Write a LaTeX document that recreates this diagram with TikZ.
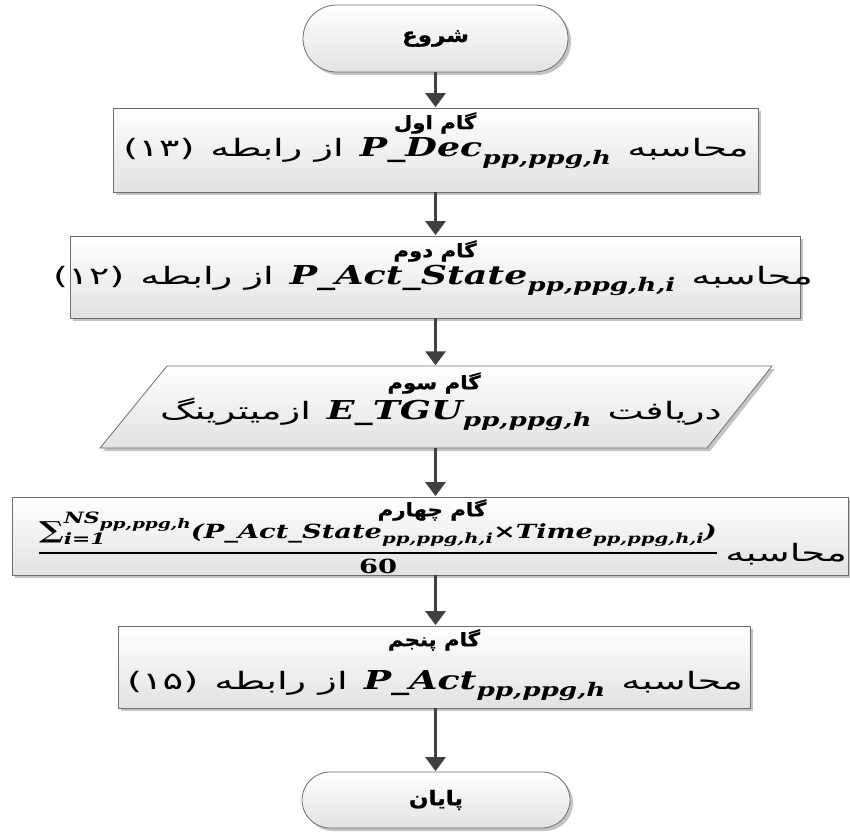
\documentclass[tikz,border=0pt]{standalone}
\usepackage{fontspec}
\usepackage{graphicx}
\usetikzlibrary{shapes.misc,shadows,arrows.meta}
\TeXXeTstate=1
% Persian text faces
\newfontfamily\fa[Script=Arabic,FakeStretch=1.6]{DejaVu Sans}
\newfontfamily\fatitle[Script=Arabic,FakeStretch=1.15,BoldFeatures={FakeBold=1}]{DejaVu Sans}
% Latin symbols of the formulas
\newfontfamily\lat[FakeStretch=1.4]{DejaVu Serif}
\definecolor{edgegray}{HTML}{6E6E6E}
\definecolor{arrowgray}{HTML}{404040}
\definecolor{shadegray}{HTML}{E2E2E2}
\definecolor{shadowgray}{HTML}{C4C4C4}
% subscript and variable helpers
\newcommand\lsub[1]{\raisebox{-0.3em}{\scalebox{0.72}{#1}}}
\newcommand\pvar[2]{{\lat\bfseries\itshape #1\lsub{#2}}}
\newcommand\gap{\hspace{16pt}}
\begin{document}
\begin{tikzpicture}[x=1pt,y=-1pt,
  box/.style={draw=edgegray, line width=0.8pt, top color=white, bottom color=shadegray,
    drop shadow={shadow xshift=3pt, shadow yshift=-3pt, fill=shadowgray, opacity=1},
    inner sep=0pt},
  stepbox/.style={box, rectangle},
  term/.style={box, rounded rectangle, font=\fatitle\bfseries\fontsize{20}{22}\selectfont},
  ghost/.style={rectangle, draw=none, inner sep=0pt},
  title/.style={inner sep=0pt, font=\fatitle\bfseries\fontsize{18.5}{20}\selectfont},
  mainline/.style={inner sep=0pt, anchor=base, font=\fontsize{24}{28}\selectfont},
  formula/.style={inner sep=0pt, anchor=base, font=\fontsize{19.5}{23}\selectfont\lat\bfseries},
  flow/.style={draw=arrowgray, line width=3pt, -{Triangle[length=14pt,width=20pt]}, shorten >=0.5pt}
]
\useasboundingbox (0,0) rectangle (850,837);

% start / end
\node[term, minimum width=265pt, minimum height=67pt] (start) at (435.5,38.5) {\beginR شروع\endR};
\node[term, minimum width=268pt, minimum height=56pt] (stop) at (436,800) {\beginR پایان\endR};

% step 1
\node[stepbox, minimum width=645pt, minimum height=84pt] (s1) at (435.5,150) {};
\node[title] (t1) at (435,123) {\beginR گام اول\endR};
\node[mainline] (l1) at (436,157) {{\fa (۱۳)}\gap{\fa\beginR از رابطه\endR}\gap{\fontsize{26}{28}\selectfont\pvar{P\_Dec}{pp,ppg,h}}\gap{\fa\beginR محاسبه\endR}};

% step 2
\node[stepbox, minimum width=730pt, minimum height=82pt] (s2) at (435,277) {};
\node[title] (t2) at (435,251) {\beginR گام دوم\endR};
\node[mainline] (l2) at (433,284) {{\fa (۱۲)}\gap{\fa\beginR از رابطه\endR}\gap{\fontsize{26}{28}\selectfont\pvar{P\_Act\_State}{pp,ppg,h,i}}\gap{\fa\beginR محاسبه\endR}};

% step 3 (input)
\node[ghost, minimum width=672pt, minimum height=82pt] (s3) at (436,407) {};
\path[box] (100,448) -- (167,366) -- (772,366) -- (707,448) -- cycle;
\node[title] (t3) at (434,383) {\beginR گام سوم\endR};
\node[mainline] (l3) at (441,419) {{\fa\beginR ازمیترینگ\endR}\gap{\fontsize{26}{28}\selectfont\pvar{E\_TGU}{pp,ppg,h}}\gap{\fa\beginR دریافت\endR}};

% step 4
\node[stepbox, minimum width=836pt, minimum height=78pt] (s4) at (430,536) {};
\node[title] (t4) at (432,510) {\beginR گام چهارم\endR};
\node[formula] (f4n) at (378,538)
  {{\scalebox{1.2}{∑}}\rlap{\raisebox{-0.32em}{\scalebox{0.8}{\itshape i=1}}}\raisebox{0.72em}{\scalebox{0.8}{\itshape NS\raisebox{-0.3em}{\scalebox{0.85}{pp,ppg,h}}}}{\itshape (P\_Act\_State\lsub{pp,ppg,h,i}}×{\itshape Time\lsub{pp,ppg,h,i})}};
\coordinate (bar) at (0,553);
\draw[line width=1.8pt] (f4n.west |- bar) -- (f4n.east |- bar);
\node[formula] (f4d) at (378,573) {60};
\node[mainline, anchor=base east] (l4) at (847,561) {\fa\beginR محاسبه\endR};

% step 5
\node[stepbox, minimum width=632pt, minimum height=82pt] (s5) at (434,667) {};
\node[title] (t5) at (434,640) {\beginR گام پنجم\endR};
\node[mainline] (l5) at (435,689) {{\fa (۱۵)}\gap{\fa\beginR از رابطه\endR}\gap{\fontsize{26}{28}\selectfont\pvar{P\_Act}{pp,ppg,h}}\gap{\fa\beginR محاسبه\endR}};

% connectors
\draw[flow] (start.south) -- (start.south |- s1.north);
\draw[flow] (start.south |- s1.south) -- (start.south |- s2.north);
\draw[flow] (start.south |- s2.south) -- (start.south |- s3.north);
\draw[flow] (start.south |- s3.south) -- (start.south |- s4.north);
\draw[flow] (start.south |- s4.south) -- (start.south |- s5.north);
\draw[flow] (start.south |- s5.south) -- (start.south |- stop.north);
\end{tikzpicture}
\end{document}
